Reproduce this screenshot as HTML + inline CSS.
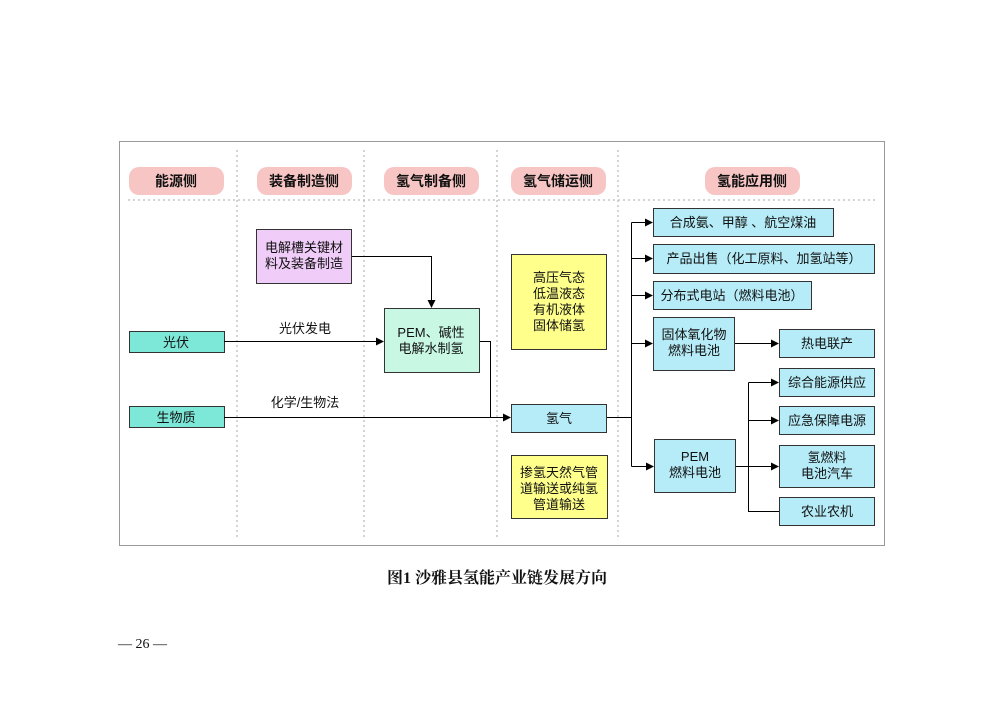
<!DOCTYPE html>
<html><head><meta charset="utf-8"><style>
body{margin:0;background:#fff;}
svg text{font-family:"Liberation Sans","Noto Sans CJK SC",sans-serif;font-size:13px;fill:#111;}
.h{font-weight:bold;font-size:14px;}
.b{stroke:#333;stroke-width:1;}
</style></head><body>
<svg width="1000" height="706" xmlns="http://www.w3.org/2000/svg">
<defs><marker id="a" markerWidth="8" markerHeight="8" refX="7" refY="4" orient="auto" markerUnits="userSpaceOnUse"><path d="M0,0L8,4L0,8z" fill="#000"/></marker></defs>
<rect x="119.5" y="141.5" width="765" height="404" fill="#fff" stroke="#999"/>
<g stroke="#aaa" stroke-dasharray="2,3">
<line x1="237" y1="150" x2="237" y2="540"/><line x1="364" y1="150" x2="364" y2="540"/>
<line x1="497" y1="150" x2="497" y2="540"/><line x1="618" y1="150" x2="618" y2="540"/>
<line x1="128" y1="200" x2="878" y2="200"/>
</g>
<g fill="#f7c6c4">
<rect x="129" y="167" width="95" height="28" rx="10"/><rect x="257" y="167" width="95" height="28" rx="10"/>
<rect x="384" y="167" width="95" height="28" rx="10"/><rect x="511" y="167" width="95" height="28" rx="10"/>
<rect x="705" y="167" width="95" height="28" rx="10"/>
</g>
<g text-anchor="middle">
<text class="h" x="176" y="186">能源侧</text><text class="h" x="304" y="186">装备制造侧</text>
<text class="h" x="431" y="186">氢气制备侧</text><text class="h" x="558" y="186">氢气储运侧</text>
<text class="h" x="752" y="186">氢能应用侧</text>
</g>
<g class="b">
<rect x="256.5" y="229.5" width="95" height="54" fill="#f0ccf8"/>
<rect x="384.5" y="308.5" width="95" height="64" fill="#c8f7e4"/>
<rect x="129.5" y="331.5" width="95" height="21" fill="#7ee8d8"/>
<rect x="129.5" y="406.5" width="95" height="21" fill="#7ee8d8"/>
<rect x="511.5" y="254.5" width="95" height="95" fill="#ffff8c"/>
<rect x="511.5" y="404.5" width="95" height="28" fill="#b6ecf8"/>
<rect x="511.5" y="455.5" width="96" height="63" fill="#ffff8c"/>
<rect x="653.5" y="208.5" width="180" height="28" fill="#b6ecf8"/>
<rect x="653.5" y="244.5" width="221" height="29" fill="#b6ecf8"/>
<rect x="653.5" y="281.5" width="158" height="28" fill="#b6ecf8"/>
<rect x="653.5" y="317.5" width="81" height="53" fill="#b6ecf8"/>
<rect x="779.5" y="329.5" width="95" height="28" fill="#b6ecf8"/>
<rect x="779.5" y="368.5" width="95" height="28" fill="#b6ecf8"/>
<rect x="779.5" y="406.5" width="95" height="28" fill="#b6ecf8"/>
<rect x="779.5" y="445.5" width="95" height="42" fill="#b6ecf8"/>
<rect x="779.5" y="497.5" width="95" height="28" fill="#b6ecf8"/>
<rect x="654.5" y="439.5" width="81" height="53" fill="#b6ecf8"/>
</g>
<g stroke="#000" fill="none">
<path d="M352,256.5H431.5V307" marker-end="url(#a)"/>
<path d="M224,341.5H383" marker-end="url(#a)"/>
<path d="M480,341.5H490.5V417.5"/>
<path d="M224,417.5H510" marker-end="url(#a)"/>
<path d="M607,417.5H631.5"/>
<path d="M631.5,222.5V466.5"/>
<path d="M631.5,222.5H652" marker-end="url(#a)"/>
<path d="M631.5,258.5H652" marker-end="url(#a)"/>
<path d="M631.5,295.5H652" marker-end="url(#a)"/>
<path d="M631.5,343.5H652" marker-end="url(#a)"/>
<path d="M631.5,466.5H653" marker-end="url(#a)"/>
<path d="M735,343.5H778" marker-end="url(#a)"/>
<path d="M736,466.5H748.5"/>
<path d="M748.5,382.5V511.5H779"/>
<path d="M748.5,382.5H778" marker-end="url(#a)"/>
<path d="M748.5,420.5H778" marker-end="url(#a)"/>
<path d="M748.5,466.5H778" marker-end="url(#a)"/>
</g>
<g text-anchor="middle">
<text x="304" y="252">电解槽关键材</text><text x="304" y="268">料及装备制造</text>
<text x="431" y="337">PEM、碱性</text><text x="431" y="353">电解水制氢</text>
<text x="176" y="347">光伏</text><text x="176" y="422">生物质</text>
<text x="305" y="333">光伏发电</text><text x="305" y="407">化学/生物法</text>
<text x="559" y="282">高压气态</text><text x="559" y="298">低温液态</text><text x="559" y="314">有机液体</text><text x="559" y="330">固体储氢</text>
<text x="559" y="423">氢气</text>
<text x="559" y="477">掺氢天然气管</text><text x="559" y="493">道输送或纯氢</text><text x="559" y="509">管道输送</text>
<text x="743" y="227">合成氨、甲醇 、航空煤油</text>
<text x="764" y="263">产品出售（化工原料、加氢站等）</text>
<text x="732" y="300">分布式电站（燃料电池）</text>
<text x="694" y="339">固体氧化物</text><text x="694" y="355">燃料电池</text>
<text x="827" y="348">热电联产</text><text x="827" y="387">综合能源供应</text>
<text x="827" y="425">应急保障电源</text>
<text x="827" y="462">氢燃料</text><text x="827" y="478">电池汽车</text>
<text x="827" y="516">农业农机</text>
<text x="695" y="461">PEM</text><text x="695" y="477">燃料电池</text>
</g>
<text x="497" y="583" text-anchor="middle" style="font-family:'Liberation Serif','Noto Serif CJK SC',serif;font-weight:bold;font-size:16px">图1  沙雅县氢能产业链发展方向</text>
<text x="118" y="648" style="font-family:'Liberation Serif','Noto Serif CJK SC',serif;font-size:14px">— 26 —</text>
</svg>
</body></html>
